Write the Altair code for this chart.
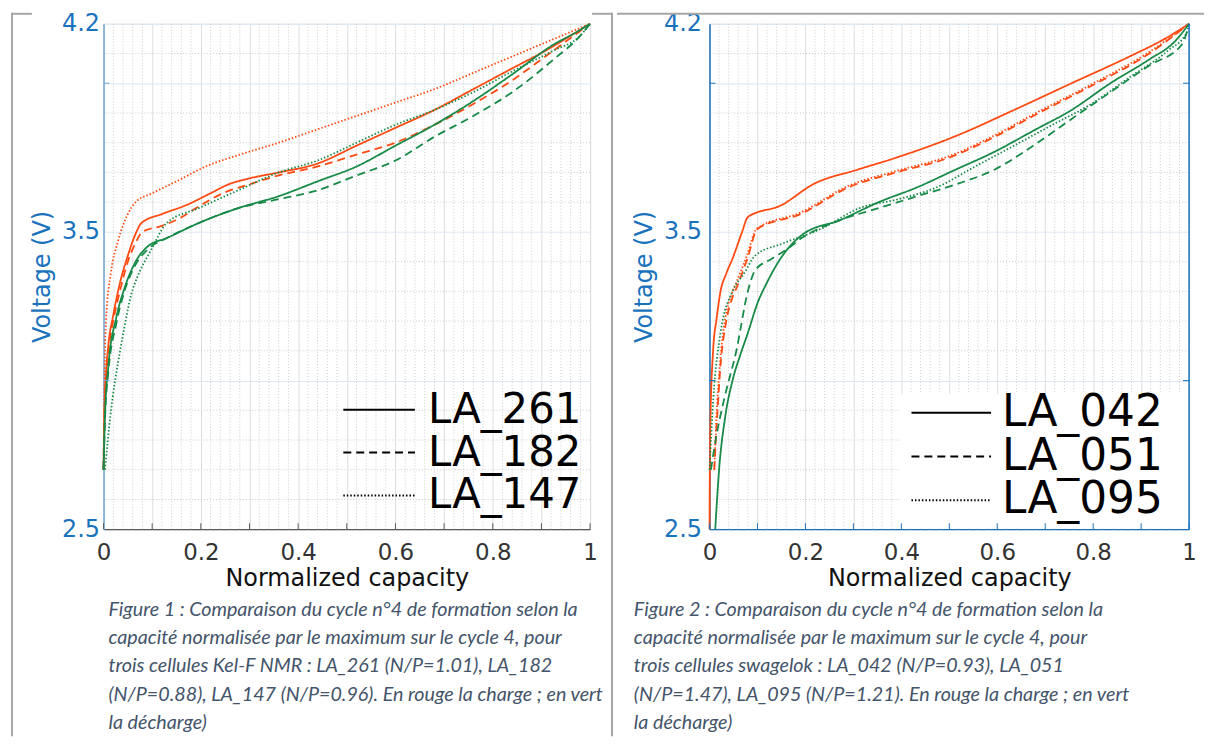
import altair as alt
import pandas as pd

# ---------------- data ----------------
# Left panel: Kel-F NMR cells
L261_CH_C = [0, 0.002, 0.005, 0.01, 0.02, 0.034, 0.05, 0.065, 0.078, 0.12, 0.17, 0.22, 0.257, 0.30, 0.36, 0.44, 0.52, 0.60, 0.68, 0.76, 0.84, 0.92, 0.97, 1.0]
L261_CH_V = [2.70, 2.90, 3.02, 3.12, 3.22, 3.33, 3.42, 3.49, 3.53, 3.56, 3.59, 3.63, 3.66, 3.68, 3.70, 3.73, 3.79, 3.85, 3.91, 3.98, 4.05, 4.12, 4.17, 4.20]
L182_CH_C = [0, 0.002, 0.005, 0.01, 0.02, 0.035, 0.05, 0.065, 0.08, 0.12, 0.155, 0.20, 0.245, 0.30, 0.36, 0.44, 0.52, 0.60, 0.68, 0.76, 0.84, 0.90, 0.95, 1.0]
L182_CH_V = [2.70, 2.88, 3.00, 3.10, 3.20, 3.31, 3.40, 3.46, 3.50, 3.52, 3.545, 3.59, 3.63, 3.66, 3.69, 3.72, 3.76, 3.80, 3.86, 3.93, 4.01, 4.08, 4.14, 4.20]
L147_CH_C = [0, 0.002, 0.005, 0.015, 0.03, 0.05, 0.066, 0.10, 0.15, 0.21, 0.28, 0.36, 0.44, 0.52, 0.60, 0.68, 0.76, 0.84, 0.92, 1.0]
L147_CH_V = [2.70, 3.00, 3.20, 3.36, 3.47, 3.56, 3.60, 3.63, 3.67, 3.72, 3.76, 3.80, 3.845, 3.89, 3.935, 3.98, 4.035, 4.09, 4.145, 4.20]
L261_DC_C = [0, 0.003, 0.01, 0.026, 0.043, 0.066, 0.09, 0.131, 0.196, 0.277, 0.36, 0.44, 0.52, 0.60, 0.68, 0.76, 0.84, 0.925, 0.97, 1.0]
L261_DC_V = [2.70, 2.88, 3.05, 3.21, 3.31, 3.40, 3.45, 3.48, 3.53, 3.58, 3.62, 3.67, 3.72, 3.79, 3.86, 3.94, 4.03, 4.13, 4.17, 4.20]
L182_DC_C = [0, 0.003, 0.01, 0.026, 0.043, 0.066, 0.09, 0.131, 0.196, 0.277, 0.36, 0.44, 0.52, 0.60, 0.68, 0.76, 0.84, 0.925, 0.98, 1.0]
L182_DC_V = [2.70, 2.87, 3.03, 3.19, 3.30, 3.39, 3.44, 3.48, 3.53, 3.58, 3.61, 3.64, 3.69, 3.74, 3.82, 3.89, 3.97, 4.08, 4.16, 4.20]
L147_DC_C = [0.003, 0.014, 0.034, 0.043, 0.057, 0.07, 0.098, 0.13, 0.196, 0.277, 0.36, 0.44, 0.52, 0.60, 0.68, 0.76, 0.84, 0.925, 0.98, 1.0]
L147_DC_V = [2.70, 2.88, 3.10, 3.18, 3.29, 3.35, 3.44, 3.53, 3.58, 3.64, 3.70, 3.74, 3.80, 3.86, 3.91, 3.97, 4.04, 4.11, 4.16, 4.20]

# Right panel: swagelok cells
L042_CH_C = [0, 0.0015, 0.0075, 0.015, 0.023, 0.035, 0.048, 0.068, 0.08, 0.15, 0.216, 0.31, 0.39, 0.51, 0.635, 0.755, 0.876, 0.95, 1.0]
L042_CH_V = [2.50, 2.83, 3.10, 3.21, 3.30, 3.36, 3.41, 3.50, 3.55, 3.59, 3.66, 3.71, 3.75, 3.82, 3.91, 4.00, 4.09, 4.15, 4.20]
L051_CH_C = [0.01, 0.015, 0.023, 0.035, 0.048, 0.056, 0.079, 0.10, 0.19, 0.29, 0.39, 0.50, 0.595, 0.675, 0.795, 0.917, 1.0]
L051_CH_V = [2.70, 2.85, 3.05, 3.20, 3.28, 3.31, 3.41, 3.51, 3.56, 3.65, 3.70, 3.75, 3.82, 3.89, 3.99, 4.10, 4.20]
L095_CH_C = [0.01, 0.014, 0.022, 0.033, 0.046, 0.056, 0.078, 0.098, 0.19, 0.29, 0.39, 0.50, 0.595, 0.675, 0.795, 0.917, 1.0]
L095_CH_V = [2.70, 2.86, 3.06, 3.21, 3.29, 3.33, 3.42, 3.51, 3.565, 3.655, 3.705, 3.755, 3.825, 3.895, 3.995, 4.105, 4.20]
L042_DC_C = [0.012, 0.02, 0.033, 0.048, 0.065, 0.08, 0.10, 0.12, 0.144, 0.193, 0.273, 0.353, 0.433, 0.514, 0.595, 0.675, 0.755, 0.836, 0.917, 0.97, 1.0]
L042_DC_V = [2.50, 2.70, 2.88, 3.00, 3.09, 3.16, 3.26, 3.33, 3.40, 3.49, 3.54, 3.60, 3.65, 3.71, 3.77, 3.84, 3.91, 4.00, 4.08, 4.14, 4.20]
L051_DC_C = [0.003, 0.015, 0.031, 0.056, 0.08, 0.095, 0.13, 0.16, 0.193, 0.273, 0.353, 0.433, 0.514, 0.595, 0.675, 0.755, 0.836, 0.917, 0.985, 1.0]
L051_DC_V = [2.70, 2.82, 2.94, 3.10, 3.30, 3.37, 3.41, 3.44, 3.48, 3.54, 3.58, 3.62, 3.66, 3.71, 3.79, 3.88, 3.97, 4.06, 4.13, 4.20]
L095_DC_C = [0.0, 0.008, 0.023, 0.048, 0.072, 0.095, 0.151, 0.232, 0.313, 0.394, 0.474, 0.554, 0.635, 0.715, 0.796, 0.876, 0.956, 0.995, 1.0]
L095_DC_V = [2.70, 2.94, 3.16, 3.30, 3.36, 3.42, 3.46, 3.51, 3.58, 3.61, 3.65, 3.72, 3.79, 3.86, 3.93, 4.02, 4.11, 4.17, 4.20]

LEFT_CELLS = ["LA_261", "LA_182", "LA_147"]
RIGHT_CELLS = ["LA_042", "LA_051", "LA_095"]
MODES = ["charge", "discharge"]

X_MAJOR = [0, 0.1, 0.2, 0.3, 0.4, 0.5, 0.6, 0.7, 0.8, 0.9, 1.0]
X_MINOR = [0.02, 0.04, 0.06, 0.08, 0.12, 0.14, 0.16, 0.18, 0.22, 0.24, 0.26, 0.28,
           0.32, 0.34, 0.36, 0.38, 0.42, 0.44, 0.46, 0.48, 0.52, 0.54, 0.56, 0.58,
           0.62, 0.64, 0.66, 0.68, 0.72, 0.74, 0.76, 0.78, 0.82, 0.84, 0.86, 0.88,
           0.92, 0.94, 0.96, 0.98]
Y_MAJOR = [2.5, 3.0, 3.5, 4.0, 4.2]
Y_MINOR = [2.6, 2.7, 2.8, 2.9, 3.1, 3.2, 3.3, 3.4, 3.6, 3.7, 3.8, 3.9, 4.1]
Y_INNER_TICKS = [3.0, 4.0]

LEFT_CAPTION = [
    "Figure 1 : Comparaison du cycle n°4 de formation selon la",
    "capacité normalisée par le maximum sur le cycle 4, pour",
    "trois cellules Kel-F NMR : LA_261 (N/P=1.01), LA_182",
    "(N/P=0.88), LA_147 (N/P=0.96). En rouge la charge ; en vert",
    "la décharge)",
]
RIGHT_CAPTION = [
    "Figure 2 : Comparaison du cycle n°4 de formation selon la",
    "capacité normalisée par le maximum sur le cycle 4, pour",
    "trois cellules swagelok : LA_042 (N/P=0.93), LA_051",
    "(N/P=1.47), LA_095 (N/P=1.21). En rouge la charge ; en vert",
    "la décharge)",
]

LEFT_CURVES = [
    ("LA_261", "charge", L261_CH_C, L261_CH_V),
    ("LA_182", "charge", L182_CH_C, L182_CH_V),
    ("LA_147", "charge", L147_CH_C, L147_CH_V),
    ("LA_261", "discharge", L261_DC_C, L261_DC_V),
    ("LA_182", "discharge", L182_DC_C, L182_DC_V),
    ("LA_147", "discharge", L147_DC_C, L147_DC_V),
]
RIGHT_CURVES = [
    ("LA_042", "charge", L042_CH_C, L042_CH_V),
    ("LA_051", "charge", L051_CH_C, L051_CH_V),
    ("LA_095", "charge", L095_CH_C, L095_CH_V),
    ("LA_042", "discharge", L042_DC_C, L042_DC_V),
    ("LA_051", "discharge", L051_DC_C, L051_DC_V),
    ("LA_095", "discharge", L095_DC_C, L095_DC_V),
]

# ---------------- style ----------------
RED = "#ff4a12"
GREEN = "#178a48"
BLUE = "#1a72bd"
LIGHT_BLUE = "#6ea8da"
MAJOR_X_GRID = "#dedede"
MAJOR_Y_GRID = "#dce7f2"
MINOR_GRID = "#cccccc"
BORDER = "#a6a6a6"
CAPTION = "#44546a"
DASHES = [[1, 0], [8, 5], [1.5, 2]]
H = 508
FONT = "DejaVu Sans"
CAP_FONT = "Lato"
LONG_STROKE = "M-2,0H2"   # legend line sample twice as long as the symbol size


def frame(curves):
    rows = []
    for k, (cell, mode, cs, vs) in enumerate(curves):
        for i, (c, v) in enumerate(zip(cs, vs)):
            rows.append({"curve": k, "cell": cell, "mode": mode, "c": c, "v": v, "i": i})
    return pd.DataFrame(rows)


def one():
    return alt.Data(values=[{"k": 1}])


def panel(curves, cells, W, side):
    xs = alt.Scale(domain=[0, 1], nice=False, zero=False)
    ys = alt.Scale(domain=[2.5, 4.2], nice=False, zero=False)
    right = side == "right"
    x_axis = alt.Axis(
        values=X_MAJOR,
        labelExpr="round(datum.value*10) % 2 == 0 ? format(datum.value, '~g') : ''",
        grid=True, gridColor=MAJOR_X_GRID, gridWidth=1,
        ticks=False, domain=True,
        domainColor=(BLUE if right else "#5a5a5a"), domainWidth=1.3,
        labelFont=FONT, labelFontSize=23, labelColor="#333333", labelPadding=12,
        labelFlush=False,
        title="Normalized capacity", titleFont=FONT, titleFontSize=24,
        titleFontWeight="normal", titleColor="#111111", titlePadding=3,
    )
    y_axis = alt.Axis(
        values=Y_MAJOR,
        labelExpr="(round(datum.value*10) == 30 || round(datum.value*10) == 40) ? '' : format(datum.value, '.1f')",
        grid=True, gridColor=MAJOR_Y_GRID, gridWidth=1,
        ticks=False, domain=True,
        domainColor=(BLUE if right else LIGHT_BLUE), domainWidth=1.5,
        labelFont=FONT, labelFontSize=24, labelColor=BLUE,
        labelPadding=(8 if right else 4), labelFlush=False,
        title="Voltage (V)", titleFont=FONT, titleFontSize=24,
        titleFontWeight="normal", titleColor=BLUE, titlePadding=7,
    )
    X = lambda f: alt.X(f, scale=xs, axis=x_axis)
    Y = lambda f: alt.Y(f, scale=ys, axis=y_axis)

    minor_x = alt.Chart(pd.DataFrame({"g": X_MINOR})).mark_rule(
        stroke=MINOR_GRID, strokeWidth=1, strokeDash=[1, 2]
    ).encode(x=X("g:Q"))
    minor_y = alt.Chart(pd.DataFrame({"g": Y_MINOR})).mark_rule(
        stroke=MINOR_GRID, strokeWidth=1, strokeDash=[1, 2]
    ).encode(y=Y("g:Q"))

    if right:
        leg = alt.Legend(
            title=None, orient="none", legendX=221, legendY=369, direction="vertical",
            symbolType=LONG_STROKE, symbolSize=1600, symbolStrokeWidth=2,
            symbolFillColor="transparent",
            symbolStrokeColor="black", labelFont=FONT, labelFontSize=44,
            labelColor="black", labelOffset=29, rowPadding=0, padding=0,
            labelLimit=500,
        )
    else:
        leg = alt.Legend(
            title=None, orient="none", legendX=256, legendY=367, direction="vertical",
            symbolType=LONG_STROKE, symbolSize=1296, symbolStrokeWidth=2,
            symbolFillColor="transparent",
            symbolStrokeColor="black", labelFont=FONT, labelFontSize=42,
            labelColor="black", labelOffset=28, rowPadding=1, padding=0,
            labelLimit=500,
        )

    lines = alt.Chart(frame(curves)).mark_line(strokeWidth=1.8, interpolate="monotone").encode(
        x=X("c:Q"),
        y=Y("v:Q"),
        color=alt.Color("mode:N", scale=alt.Scale(domain=MODES, range=[RED, GREEN]), legend=None),
        strokeDash=alt.StrokeDash("cell:N", scale=alt.Scale(domain=cells, range=DASHES), legend=leg),
        detail="curve:N",
        order="i:Q",
    )

    tick_col = BLUE if right else "#5a5a5a"
    xticks = alt.Chart(pd.DataFrame({"t": X_MAJOR})).mark_rule(
        stroke=tick_col, strokeWidth=1
    ).encode(x=X("t:Q"), y=alt.value(H - 6), y2=alt.value(H))
    yticks = alt.Chart(pd.DataFrame({"t": Y_INNER_TICKS})).mark_rule(
        stroke=(BLUE if right else LIGHT_BLUE), strokeWidth=1
    ).encode(y=Y("t:Q"), x=alt.value(0), x2=alt.value(6))

    layers = [minor_x, minor_y]

    if right:
        # white legend box
        layers.append(alt.Chart(one()).mark_rect(fill="white").encode(
            x=alt.value(192), x2=alt.value(W), y=alt.value(372), y2=alt.value(H - 1)))
    layers += [lines, xticks, yticks]

    if right:
        layers.append(alt.Chart(one()).mark_rule(stroke=BLUE, strokeWidth=1.5).encode(
            x=alt.value(W), y=alt.value(0), y2=alt.value(H)))
        layers.append(alt.Chart(pd.DataFrame({"t": Y_INNER_TICKS})).mark_rule(
            stroke=BLUE, strokeWidth=1).encode(
            y=Y("t:Q"), x=alt.value(W - 6), x2=alt.value(W)))

    cap_lines = RIGHT_CAPTION if right else LEFT_CAPTION
    layers.append(alt.Chart(one()).mark_text(
        align="left", baseline="top", font=CAP_FONT, fontStyle="italic",
        fontSize=19.8, lineHeight=28.4, color=CAPTION,
    ).encode(x=alt.value(-76 if right else 5), y=alt.value(579), text=alt.value(cap_lines)))

    # table borders
    def hline(x1, x2, y):
        return alt.Chart(one()).mark_rule(stroke=BORDER, strokeWidth=2).encode(
            x=alt.value(x1), x2=alt.value(x2), y=alt.value(y))

    def vline(x, y1, y2):
        return alt.Chart(one()).mark_rule(stroke=BORDER, strokeWidth=2).encode(
            x=alt.value(x), y=alt.value(y1), y2=alt.value(y2))

    if right:
        layers.append(hline(-93, 497, -10))
    else:
        layers += [vline(-92, -11, 716), hline(-93, -72, -10),
                   hline(491, 512, -10), vline(511, -11, 716)]

    return alt.layer(*layers).properties(width=W, height=H)


left = panel(LEFT_CURVES, LEFT_CELLS, 489, "left")
right = panel(RIGHT_CURVES, RIGHT_CELLS, 482, "right")

chart = alt.hconcat(left, right, spacing=0).resolve_scale(
    x="independent", y="independent", color="independent", strokeDash="independent"
).resolve_legend(strokeDash="independent").properties(
    padding={"left": 1, "top": 1, "right": 0, "bottom": 0}
).configure_view(strokeWidth=0).configure(background="white")

chart.save("out.html", embed_options={"renderer": "svg", "actions": False})
